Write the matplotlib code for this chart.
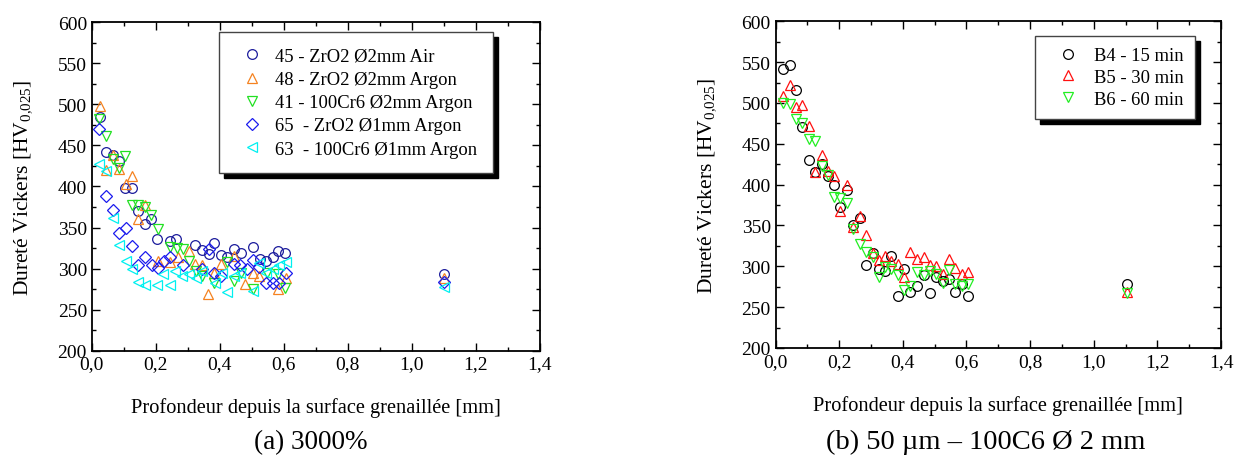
import numpy as np
import matplotlib
matplotlib.use("Agg")
import matplotlib.pyplot as plt
from matplotlib.ticker import MultipleLocator, FuncFormatter

plt.rcParams['font.family'] = ['Liberation Serif', 'DejaVu Serif']
plt.rcParams['mathtext.fontset'] = 'custom'
plt.rcParams['mathtext.rm'] = 'Liberation Serif'
plt.rcParams['mathtext.default'] = 'regular'

# ---- (a) 3000% ----
x45 = [0.026, 0.044, 0.066, 0.086, 0.104, 0.125, 0.144, 0.165, 0.185, 0.205, 0.243, 0.264,
       0.323, 0.344, 0.365, 0.383, 0.404, 0.424, 0.443, 0.467, 0.505, 0.526, 0.545, 0.565,
       0.583, 0.604, 1.102]
y45 = [484, 442, 438, 431, 398, 398, 370, 354, 360, 336, 334, 336,
       329, 323, 318, 331, 317, 314, 324, 319, 326, 312, 309, 314,
       322, 319, 293]

x48 = [0.026, 0.046, 0.066, 0.086, 0.106, 0.125, 0.146, 0.167, 0.208, 0.245, 0.268, 0.305,
       0.323, 0.344, 0.363, 0.383, 0.404, 0.445, 0.479, 0.505, 0.521, 0.583, 0.606, 1.102]
y48 = [498, 420, 438, 421, 403, 413, 360, 377, 309, 308, 314, 322,
       306, 304, 269, 295, 306, 315, 281, 295, 291, 275, 288, 288]

x41 = [0.024, 0.045, 0.066, 0.086, 0.104, 0.125, 0.146, 0.167, 0.185, 0.206, 0.245, 0.266,
       0.285, 0.305, 0.326, 0.344, 0.382, 0.424, 0.443, 0.467, 0.505, 0.547, 0.583, 0.604]
y41 = [482, 462, 433, 422, 437, 377, 377, 375, 365, 348, 326, 325,
       324, 309, 297, 291, 283, 308, 285, 295, 275, 295, 293, 276]

x65 = [0.024, 0.044, 0.066, 0.086, 0.106, 0.125, 0.146, 0.167, 0.188, 0.208, 0.226, 0.245,
       0.286, 0.344, 0.365, 0.383, 0.404, 0.443, 0.464, 0.484, 0.505, 0.523, 0.544, 0.565,
       0.585, 0.606, 1.102]
y65 = [470, 388, 371, 343, 349, 328, 304, 314, 304, 301, 309, 314,
       304, 300, 324, 295, 291, 306, 304, 300, 310, 302, 283, 283,
       282, 295, 284]

x63 = [0.024, 0.044, 0.066, 0.086, 0.106, 0.125, 0.146, 0.167, 0.203, 0.222, 0.243, 0.261,
       0.281, 0.305, 0.326, 0.346, 0.385, 0.406, 0.422, 0.443, 0.464, 0.505, 0.524, 0.545,
       0.565, 0.585, 0.606, 1.102]
y63 = [427, 419, 362, 329, 309, 300, 284, 280, 280, 293, 280, 297,
       291, 293, 288, 297, 283, 295, 271, 291, 295, 273, 307, 295,
       300, 304, 308, 277]

# ---- (b) 50 um - 100C6 2 mm ----
xb = [0.024, 0.045, 0.064, 0.084, 0.104, 0.125, 0.145, 0.164, 0.184, 0.203, 0.224, 0.244,
      0.264, 0.284, 0.305, 0.325, 0.345, 0.364, 0.384, 0.404, 0.424, 0.445, 0.465, 0.485,
      0.504, 0.525, 0.545, 0.565, 0.585, 0.605, 1.106]
yb4 = [542, 547, 516, 471, 430, 416, 425, 410, 399, 373, 393, 351,
       359, 301, 316, 297, 294, 312, 264, 297, 268, 276, 289, 267,
       287, 282, 285, 269, 278, 263, 278]
yb5 = [508, 522, 495, 498, 472, 416, 436, 417, 410, 368, 400, 348,
       362, 338, 316, 308, 312, 306, 303, 287, 318, 309, 311, 301,
       300, 291, 309, 298, 291, 293, 268]
yb6 = [500, 499, 480, 476, 456, 454, 423, 412, 385, 384, 377, 346,
       327, 317, 311, 287, 299, 297, 289, 271, 276, 293, 289, 294,
       291, 280, 295, 278, 276, 278, 267]

fig = plt.figure(figsize=(12.35, 4.64), dpi=100)
ax1 = fig.add_axes([0.0743, 0.242, 0.3628, 0.708])
ax2 = fig.add_axes([0.628, 0.248, 0.3607, 0.704])

mk = dict(linestyle='none', markersize=7, markerfacecolor='none', markeredgewidth=0.9)
ax1.plot(x45, y45, 'o', color='#1c1c9c', label='45 - ZrO2 Ø2mm Air', **mk)
ax1.plot(x48, y48, '^', color='#f58220', label='48 - ZrO2 Ø2mm Argon', **mk)
ax1.plot(x41, y41, 'v', color='#22e022', label='41 - 100Cr6 Ø2mm Argon', **mk)
ax1.plot(x65, y65, 'D', color='#1a1aee', label='65  - ZrO2 Ø1mm Argon', **dict(mk, markersize=6.2))
ax1.plot(x63, y63, '<', color='#00f0f0', label='63  - 100Cr6 Ø1mm Argon', **mk)

ax2.plot(xb, yb4, 'o', color='black', label='B4 - 15 min', **mk)
ax2.plot(xb, yb5, '^', color='#ff1010', label='B5 - 30 min', **mk)
ax2.plot(xb, yb6, 'v', color='#22ee22', label='B6 - 60 min', **mk)

comma = FuncFormatter(lambda v, p: f'{v:.1f}'.replace('.', ','))
for ax in (ax1, ax2):
    ax.set_xlim(0, 1.4)
    ax.set_ylim(200, 600)
    ax.xaxis.set_major_locator(MultipleLocator(0.2))
    ax.xaxis.set_minor_locator(MultipleLocator(0.1))
    ax.yaxis.set_major_locator(MultipleLocator(50))
    ax.yaxis.set_minor_locator(MultipleLocator(25))
    ax.xaxis.set_major_formatter(comma)
    ax.tick_params(which='both', direction='in', top=True, right=True, labelsize=14)
    ax.tick_params(which='major', length=6, width=1)
    ax.tick_params(which='minor', length=3, width=1)
    for s in ax.spines.values():
        s.set_linewidth(1.3)
    ax.set_xlabel('Profondeur depuis la surface grenaillée [mm]', fontsize=14.7, labelpad=18)
    ax.set_ylabel('Dureté Vickers [HV$_{0{,}025}$]', fontsize=15.5, labelpad=17)

shadow = {'color': 'black', 'alpha': 1, 'ox': 3.6, 'oy': -3.6}
leg_kw = dict(loc='upper right', fontsize=13.4, fancybox=False, edgecolor='#444444',
              framealpha=1, shadow=shadow, handletextpad=0.25, borderaxespad=0)
ax1.legend(bbox_to_anchor=(0.895, 0.97), borderpad=0.85, labelspacing=0.33,
           handlelength=1.9, **leg_kw)
ax2.legend(bbox_to_anchor=(0.941, 0.955), borderpad=0.6, labelspacing=0.25,
           handlelength=2.3, **leg_kw)

fig.text(0.252, 0.047, '(a) 3000%', fontsize=19.5, ha='center', va='center')
fig.text(0.798, 0.047, '(b) 50 µm – 100C6 Ø 2 mm', fontsize=20.5, ha='center', va='center')

fig.savefig('out.png', dpi=100)
